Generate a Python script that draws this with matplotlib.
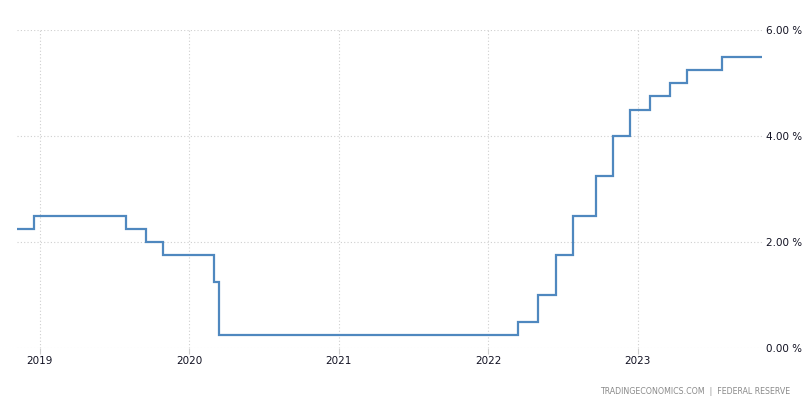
import numpy as np
import matplotlib
matplotlib.use("Agg")
import matplotlib.pyplot as plt
import matplotlib.dates as mdates
from datetime import datetime

# Fed funds target rate (upper bound), changes at decision dates
dates = ["2018-11-07", "2018-12-19", "2019-07-31", "2019-09-18", "2019-10-30",
         "2020-03-03", "2020-03-15", "2022-03-16", "2022-05-04", "2022-06-15",
         "2022-07-27", "2022-09-21", "2022-11-02", "2022-12-14", "2023-02-01",
         "2023-03-22", "2023-05-03", "2023-07-26", "2023-11-01"]
rates = [2.25, 2.50, 2.25, 2.00, 1.75,
         1.25, 0.25, 0.50, 1.00, 1.75,
         2.50, 3.25, 4.00, 4.50, 4.75,
         5.00, 5.25, 5.50, 5.50]
yticks = [0, 2, 4, 6]
years = [2019, 2020, 2021, 2022, 2023]

x = [datetime.strptime(d, "%Y-%m-%d") for d in dates]

fig = plt.figure(figsize=(8.04, 4.03), dpi=100)
ax = fig.add_axes([17/804, 55/403, 745/804, 318/403])

ax.plot(x, rates, drawstyle="steps-post", color="#4f88bf", lw=1.6,
        solid_joinstyle="miter")

ax.set_xlim(x[0], x[-1])
ax.set_ylim(0, 6)
ax.set_yticks(yticks)
ax.set_yticklabels(["%.2f %%" % v for v in yticks])
ax.yaxis.tick_right()
ax.set_xticks([datetime(y, 1, 1) for y in years])
ax.set_xticklabels([str(y) for y in years])

for s in ax.spines.values():
    s.set_visible(False)
ax.grid(True, color="#cfcfcf", linestyle=(0, (1, 2)), lw=0.8)
ax.tick_params(axis="x", length=4, color="#cfcfcf", labelsize=7.5,
               labelcolor="#111122", pad=2)
ax.tick_params(axis="y", length=0, labelsize=7.5, labelcolor="#111122", pad=3)
ax.set_axisbelow(True)

fig.text(790/804, 1 - 392/403, "TRADINGECONOMICS.COM  |  FEDERAL RESERVE",
         ha="right", va="center", fontsize=5.7, color="#8a8a8a")

fig.savefig("out.png", dpi=100)
